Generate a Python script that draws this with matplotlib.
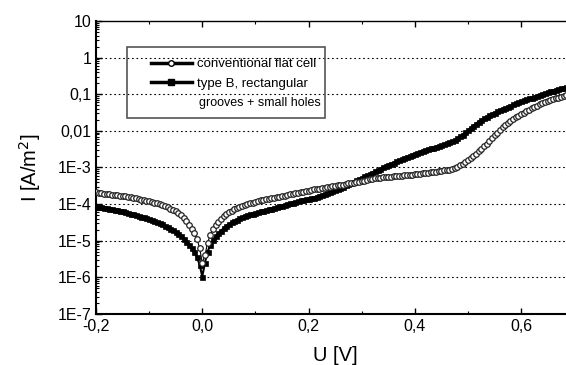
import matplotlib.pyplot as plt
import numpy as np
from matplotlib.lines import Line2D
from matplotlib.patches import Rectangle

plt.rcParams['font.family'] = ['Liberation Sans', 'DejaVu Sans']

# log10 of current density [A/m^2], one value every 0.005 V from -0.2 V to 0.7 V
log_flat = [
    -3.68, -3.69, -3.70, -3.71, -3.72, -3.73, -3.74, -3.75, -3.76, -3.77,
    -3.78, -3.79, -3.80, -3.815, -3.83, -3.845, -3.86, -3.875, -3.89, -3.905,
    -3.92, -3.94, -3.96, -3.98, -4.00, -4.025, -4.05, -4.085, -4.12, -4.16,
    -4.20, -4.25, -4.30, -4.37, -4.45, -4.56, -4.68, -4.80, -4.95, -5.20,
    -5.60, -5.40, -5.05, -4.85, -4.68, -4.57, -4.48, -4.40, -4.33, -4.27,
    -4.22, -4.18, -4.14, -4.10, -4.07, -4.045, -4.02, -4.00, -3.98, -3.96,
    -3.94, -3.92, -3.90, -3.885, -3.87, -3.855, -3.84, -3.825, -3.81, -3.795,
    -3.78, -3.765, -3.75, -3.735, -3.72, -3.705, -3.69, -3.675, -3.66, -3.645,
    -3.63, -3.615, -3.60, -3.59, -3.58, -3.565, -3.55, -3.54, -3.53, -3.515,
    -3.50, -3.49, -3.48, -3.465, -3.45, -3.435, -3.42, -3.41, -3.40, -3.385,
    -3.37, -3.355, -3.34, -3.325, -3.31, -3.30, -3.29, -3.28, -3.27, -3.265,
    -3.26, -3.25, -3.24, -3.235, -3.23, -3.22, -3.21, -3.205, -3.20, -3.195,
    -3.19, -3.18, -3.17, -3.16, -3.15, -3.14, -3.13, -3.12, -3.11, -3.10,
    -3.09, -3.08, -3.07, -3.055, -3.04, -3.01, -2.98, -2.94, -2.90, -2.85,
    -2.80, -2.74, -2.68, -2.62, -2.56, -2.49, -2.42, -2.345, -2.27, -2.195,
    -2.12, -2.045, -1.97, -1.905, -1.84, -1.785, -1.73, -1.68, -1.63, -1.585,
    -1.54, -1.50, -1.46, -1.42, -1.38, -1.345, -1.31, -1.28, -1.25, -1.22,
    -1.19, -1.165, -1.14, -1.115, -1.09, -1.065, -1.04, -1.015, -0.99, -0.97,
    -0.95]

log_typeb = [
    -4.07, -4.08, -4.09, -4.10, -4.11, -4.125, -4.14, -4.155, -4.17, -4.185,
    -4.20, -4.22, -4.24, -4.26, -4.28, -4.30, -4.32, -4.34, -4.36, -4.385,
    -4.41, -4.435, -4.46, -4.49, -4.52, -4.555, -4.59, -4.63, -4.67, -4.715,
    -4.76, -4.82, -4.88, -4.95, -5.03, -5.11, -5.20, -5.32, -5.45, -5.65,
    -5.98, -5.60, -5.30, -5.12, -4.97, -4.88, -4.80, -4.73, -4.66, -4.60,
    -4.55, -4.50, -4.46, -4.425, -4.39, -4.36, -4.33, -4.305, -4.28, -4.26,
    -4.24, -4.22, -4.20, -4.18, -4.16, -4.14, -4.12, -4.10, -4.08, -4.06,
    -4.04, -4.02, -4.00, -3.98, -3.96, -3.94, -3.92, -3.90, -3.88, -3.865,
    -3.85, -3.835, -3.82, -3.795, -3.77, -3.745, -3.72, -3.695, -3.67, -3.64,
    -3.61, -3.58, -3.55, -3.52, -3.49, -3.455, -3.42, -3.385, -3.35, -3.315,
    -3.28, -3.245, -3.21, -3.175, -3.14, -3.105, -3.07, -3.03, -2.99, -2.96,
    -2.93, -2.90, -2.87, -2.835, -2.80, -2.77, -2.74, -2.71, -2.68, -2.65,
    -2.62, -2.595, -2.57, -2.545, -2.52, -2.50, -2.48, -2.455, -2.43, -2.41,
    -2.39, -2.365, -2.34, -2.315, -2.29, -2.245, -2.20, -2.15, -2.10, -2.04,
    -1.98, -1.92, -1.86, -1.805, -1.75, -1.705, -1.66, -1.62, -1.58, -1.54,
    -1.50, -1.465, -1.43, -1.40, -1.37, -1.34, -1.31, -1.28, -1.25, -1.22,
    -1.19, -1.165, -1.14, -1.115, -1.09, -1.065, -1.04, -1.015, -0.99, -0.965,
    -0.94, -0.92, -0.90, -0.88, -0.86, -0.84, -0.82, -0.80, -0.78, -0.76,
    -0.74]

u = -0.2 + 0.005 * np.arange(len(log_flat))
i_flat = 10.0 ** np.array(log_flat)
i_typeb = 10.0 ** np.array(log_typeb)

yticks = [1e1, 1e0, 1e-1, 1e-2, 1e-3, 1e-4, 1e-5, 1e-6, 1e-7]
ylabels = ['10', '1', '0,1', '0,01', '1E-3', '1E-4', '1E-5', '1E-6', '1E-7']
xticks = [-0.2, 0.0, 0.2, 0.4, 0.6]
xlabels = ['-0,2', '0,0', '0,2', '0,4', '0,6']

fig = plt.figure(figsize=(5.66, 3.65), dpi=100)
ax = fig.add_axes([0.1696, 0.1397, 0.845, 0.8028])

ax.plot(u, i_typeb, '-', color='black', lw=1.5, marker='s', ms=3.6,
        mfc='black', mec='black', mew=0.5, zorder=3)
ax.plot(u, i_flat, '-', color='black', lw=0.8, marker='o', ms=4.0,
        mfc='white', mec='#222222', mew=0.9, zorder=4)

ax.set_yscale('log')
ax.set_ylim(1e-7, 1e1)
ax.set_xlim(-0.2, 0.7)
ax.set_yticks(yticks)
ax.set_yticklabels(ylabels)
ax.set_xticks(xticks)
ax.set_xticklabels(xlabels)
ax.set_xticks([-0.1, 0.1, 0.3, 0.5], minor=True)

for y in yticks[1:-1]:
    ax.axhline(y, color='black', lw=0.8, ls=(0, (1.5, 2.5)), zorder=0)

ax.tick_params(which='both', direction='in', top=True, right=False, labelsize=11.5)
ax.tick_params(which='major', length=4, width=1)
ax.tick_params(which='minor', length=2.5, width=0.8)
for s in ['left', 'bottom']:
    ax.spines[s].set_linewidth(1.5)
ax.spines['top'].set_linewidth(1.0)

ax.set_xlabel('U [V]', fontsize=14.5, labelpad=9)
ax.set_ylabel('I [A/m$^2$]', fontsize=14.5, labelpad=10)

# legend frame drawn separately (wide left margin like the original)
fig.patches.append(Rectangle((127 / 566, 1 - 118 / 365), 198 / 566, 71 / 365,
                             transform=fig.transFigure, fill=False,
                             edgecolor='#555555', lw=1.2))
handles = [
    Line2D([], [], color='black', lw=2.5, marker='o', ms=4.0,
           mfc='white', mec='black', mew=1.0),
    Line2D([], [], color='black', lw=2.5, marker='s', ms=4.5,
           mfc='black', mec='black'),
]
labels = ['conventional flat cell', 'type B, rectangular']
fig.legend(handles, labels, loc='upper left',
           bbox_to_anchor=(151 / 566, 1 - 58 / 365), fontsize=9.5,
           frameon=False, borderpad=0, borderaxespad=0,
           handlelength=3.1, handletextpad=0.4, labelspacing=0.56)
fig.text(199 / 566, 1 - 103 / 365, 'grooves + small holes', fontsize=9.0,
         ha='left', va='center')

fig.savefig('out.png', dpi=100)
